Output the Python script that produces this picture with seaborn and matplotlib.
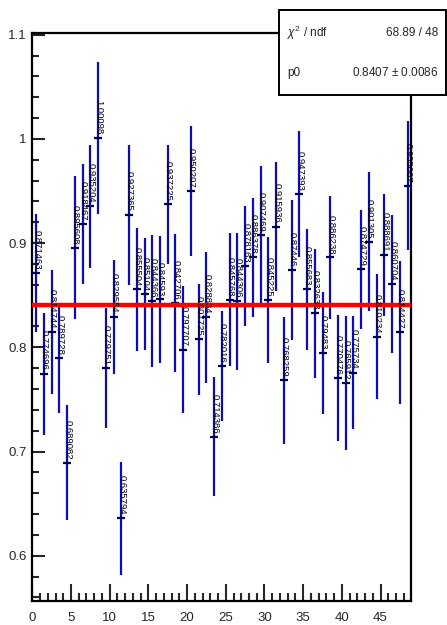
import numpy as np
import pandas as pd
import matplotlib
matplotlib.use("Agg")
import matplotlib.pyplot as plt
from matplotlib.ticker import MultipleLocator, FixedLocator, FixedFormatter
import seaborn as sns

# ---- data ----
bins = list(range(49))
values = [0.871463, 0.774696, 0.814744, 0.789728, 0.689082, 0.895608, 0.918467,
          0.935204, 1.00098, 0.779751, 0.829554, 0.635794, 0.927365, 0.855504,
          0.851040, 0.844366, 0.845930, 0.937225, 0.842706, 0.797707, 0.950207,
          0.807725, 0.828834, 0.714386, 0.782016, 0.845768, 0.844306, 0.878163,
          0.886378, 0.907469, 0.845225, 0.915936, 0.768259, 0.874460, 0.947393,
          0.855683, 0.832633, 0.794830, 0.886238, 0.770476, 0.765912, 0.775734,
          0.874729, 0.901305, 0.810234, 0.888691, 0.860704, 0.814427, 0.955087]
errors = [0.0563, 0.0584, 0.0594, 0.0531, 0.0552, 0.0686, 0.0576,
          0.0590, 0.0731, 0.0576, 0.0547, 0.0545, 0.0672, 0.0587,
          0.0540, 0.0634, 0.0614, 0.0568, 0.0660, 0.0610, 0.0624,
          0.0533, 0.0628, 0.0573, 0.0530, 0.0636, 0.0656, 0.0576,
          0.0571, 0.0662, 0.0604, 0.0616, 0.0608, 0.0672, 0.0605,
          0.0582, 0.0618, 0.0587, 0.0590, 0.0602, 0.0640, 0.0545,
          0.0569, 0.0668, 0.0600, 0.0589, 0.0665, 0.0684, 0.0617]
fit_p0 = 0.8407
fit_range = [0, 49]
stat_rows = [("$\\chi^{2}$ / ndf", "68.89 / 48"), ("p0", "0.8407 $\\pm$ 0.0086")]
x_ticks = [0, 5, 10, 15, 20, 25, 30, 35, 40, 45]
y_ticks = [0.6, 0.7, 0.8, 0.9, 1.0, 1.1]
y_tick_labels = ["0.6", "0.7", "0.8", "0.9", "1", "1.1"]

df = pd.DataFrame({"x": [b + 0.5 for b in bins], "y": values, "err": errors})
fit_df = pd.DataFrame({"x": fit_range, "y": [fit_p0, fit_p0]})

sns.set_style("ticks")
plt.rcParams["font.family"] = ["Liberation Sans", "DejaVu Sans"]
plt.rcParams["mathtext.fontset"] = "custom"
plt.rcParams["mathtext.rm"] = "Liberation Sans"
plt.rcParams["mathtext.it"] = "Liberation Sans:italic"

fig = plt.figure(figsize=(4.47, 6.25), dpi=100)
ax = fig.add_axes([32.3 / 447, 1 - 601 / 625, (411.5 - 32.3) / 447, (601 - 32.7) / 625])

bar_col = "#0c0cb0"
ax.errorbar(df["x"], df["y"], yerr=df["err"], fmt="none", ecolor=bar_col,
            elinewidth=1.6, capsize=0, zorder=2)
sns.scatterplot(data=df, x="x", y="y", marker="_", s=40, color="#00005a",
                linewidth=1.6, ax=ax, zorder=3, legend=False)
sns.lineplot(data=fit_df, x="x", y="y", color="#ff0000", linewidth=3.2, ax=ax,
             zorder=4, legend=False)

for xv, yv in zip(df["x"], df["y"]):
    ax.annotate(f"{yv:.6g}", (xv, yv), xytext=(0.4, 2.5), textcoords="offset points",
                rotation=-90, rotation_mode="anchor", ha="right", va="center",
                fontsize=6.8, color="black", zorder=5)

ax.set_xlim(0, 49)
ax.set_ylim(0.5565, 1.102)
ax.set_xlabel("")
ax.set_ylabel("")
ax.xaxis.set_major_locator(FixedLocator(x_ticks))
ax.xaxis.set_minor_locator(MultipleLocator(1))
ax.yaxis.set_major_locator(FixedLocator(y_ticks))
ax.yaxis.set_major_formatter(FixedFormatter(y_tick_labels))
ax.yaxis.set_minor_locator(MultipleLocator(0.02))
ax.tick_params(axis="x", which="major", direction="in", length=12, width=1.5,
               labelsize=9.5, pad=8)
ax.tick_params(axis="x", which="minor", direction="in", length=6, width=1.5)
ax.tick_params(axis="y", which="major", direction="in", length=9, width=1.5,
               labelsize=9.5, pad=4)
ax.tick_params(axis="y", which="minor", direction="in", length=5, width=1.5)
for sp in ax.spines.values():
    sp.set_visible(True)
    sp.set_linewidth(1.6)
    sp.set_color("black")

# stats box
bx0, by0, bx1, by1 = 279 / 447, 1 - 94.5 / 625, 445.5 / 447, 1 - 9.5 / 625
fig.patches.append(plt.Rectangle((bx0, by0), bx1 - bx0, by1 - by0, transform=fig.transFigure,
                                 facecolor="white", edgecolor="black", linewidth=1.4, zorder=10))
row_y = [1 - 33 / 625, 1 - 73 / 625]
for (lab, val), yy in zip(stat_rows, row_y):
    fig.text(287 / 447, yy, lab, ha="left", va="center", fontsize=8.5, zorder=11)
    fig.text(438 / 447, yy, val, ha="right", va="center", fontsize=8.5, zorder=11)

fig.savefig("out.png", dpi=100)
